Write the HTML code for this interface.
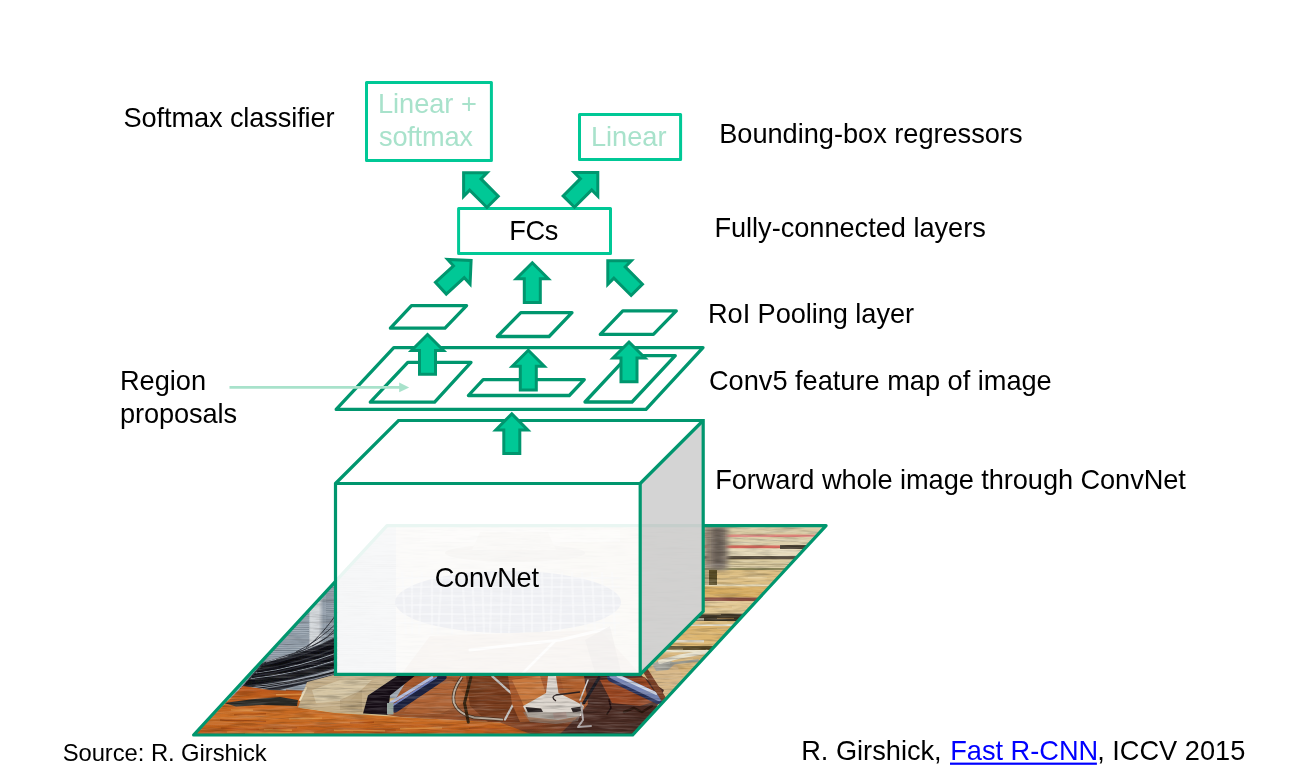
<!DOCTYPE html>
<html lang="en"><head><meta charset="utf-8"><title>Fast R-CNN</title>
<style>
html,body{margin:0;padding:0;background:#fff;}
body{width:1300px;height:769px;overflow:hidden;font-family:"Liberation Sans",Arial,sans-serif;}
svg{display:block;position:absolute;left:0;top:0;will-change:transform;}
svg text{font-family:"Liberation Sans",Arial,sans-serif;}
</style></head><body>
<svg width="1300" height="769" viewBox="0 0 1300 769">

<defs><clipPath id="imgclip"><polygon points="387.0,525.6 826.1,525.6 632.7,735.0 193.6,735.0"/></clipPath></defs>
<g clip-path="url(#imgclip)">
<defs>
<filter id="bl" x="-2%" y="-2%" width="104%" height="104%"><feGaussianBlur stdDeviation="0.55"/></filter>
<filter id="bl2" x="-20%" y="-20%" width="140%" height="140%"><feGaussianBlur stdDeviation="2.5"/></filter>
<linearGradient id="metal" x1="0" x2="1" y1="0" y2="0"><stop offset="0" stop-color="#98a3ad"/><stop offset="0.512" stop-color="#a4afba"/><stop offset="0.52" stop-color="#d6dadd"/><stop offset="0.555" stop-color="#d2d6da"/><stop offset="0.575" stop-color="#939eaa"/><stop offset="0.62" stop-color="#9aa5b0"/><stop offset="1" stop-color="#a9b3bd"/></linearGradient>
<linearGradient id="fur" x1="0" x2="0" y1="0" y2="1"><stop offset="0" stop-color="#b8551a"/><stop offset="0.55" stop-color="#cd7026"/><stop offset="1" stop-color="#b04e14"/></linearGradient>
<linearGradient id="neck" x1="0" x2="1" y1="0" y2="0.6"><stop offset="0" stop-color="#a85c2e"/><stop offset="0.5" stop-color="#96502a"/><stop offset="1" stop-color="#6e3620"/></linearGradient>
<filter id="grainD" x="0" y="0" width="100%" height="100%"><feTurbulence type="fractalNoise" baseFrequency="0.035 0.5" numOctaves="3" seed="3"/><feColorMatrix type="matrix" values="0 0 0 0 0  0 0 0 0 0  0 0 0 0 0  2.4 0 0 0 -1.05"/></filter>
<filter id="grainL" x="0" y="0" width="100%" height="100%"><feTurbulence type="fractalNoise" baseFrequency="0.03 0.45" numOctaves="3" seed="11"/><feColorMatrix type="matrix" values="0 0 0 0 1  0 0 0 0 1  0 0 0 0 1  0 2.4 0 0 -1.05"/></filter>
</defs>
<g filter="url(#bl)">
<rect x="180" y="515" width="660" height="230" fill="#d9c08c" />
<rect x="560" y="520" width="280" height="14.600000000000023" fill="#d9cba5" />
<rect x="560" y="534.6" width="280" height="2.6000000000000227" fill="#dc8078" />
<rect x="560" y="537.2" width="280" height="8.199999999999932" fill="#ddd0ac" />
<rect x="560" y="545.4" width="280" height="3.0" fill="#d86a5e" />
<rect x="560" y="548.4" width="280" height="7.600000000000023" fill="#e6daba" />
<rect x="560" y="556" width="280" height="3.5" fill="#5a5040" />
<rect x="560" y="559.5" width="280" height="4.5" fill="#d8c89c" />
<rect x="560" y="564" width="280" height="1" fill="#b8a880" />
<rect x="560" y="565" width="280" height="3" fill="#dccda4" />
<rect x="560" y="568" width="280" height="2" fill="#8a8458" />
<rect x="560" y="570" width="280" height="14.5" fill="#ddbf84" />
<rect x="560" y="584.5" width="280" height="2.0" fill="#eadcb8" />
<rect x="560" y="586.5" width="280" height="11.0" fill="#d8ae62" />
<rect x="560" y="597.5" width="280" height="3.5" fill="#8a5040" />
<rect x="560" y="601" width="280" height="12.700000000000045" fill="#e2c894" />
<rect x="560" y="613.7" width="280" height="7.2999999999999545" fill="#3a3020" />
<rect x="560" y="621" width="280" height="3" fill="#d8b878" />
<rect x="560" y="624" width="280" height="2" fill="#e8e0cc" />
<rect x="560" y="626" width="280" height="20" fill="#ddb670" />
<rect x="560" y="646" width="280" height="4" fill="#5a4a28" />
<rect x="560" y="650" width="280" height="2.5" fill="#ece4cc" />
<rect x="560" y="652.5" width="280" height="52.5" fill="#d8b67c" />
<rect x="780" y="545" width="50" height="4" fill="#4a4030" />
<line x1="661" y1="612.1" x2="699" y2="612.1" stroke="#c89c52" stroke-width="1" opacity="0.55"/>
<line x1="653" y1="676.8" x2="689" y2="676.8" stroke="#ecd8a8" stroke-width="1" opacity="0.55"/>
<line x1="701" y1="574.9" x2="718" y2="574.9" stroke="#c89c52" stroke-width="1" opacity="0.55"/>
<line x1="648" y1="641.6" x2="683" y2="641.6" stroke="#ecd8a8" stroke-width="1" opacity="0.55"/>
<line x1="722" y1="652.0" x2="739" y2="652.0" stroke="#e8cf9a" stroke-width="1" opacity="0.55"/>
<line x1="671" y1="576.4" x2="705" y2="576.4" stroke="#ecd8a8" stroke-width="1" opacity="0.55"/>
<line x1="660" y1="607.6" x2="679" y2="607.6" stroke="#b88a48" stroke-width="1" opacity="0.55"/>
<line x1="735" y1="642.8" x2="754" y2="642.8" stroke="#ecd8a8" stroke-width="1" opacity="0.55"/>
<line x1="717" y1="618.4" x2="734" y2="618.4" stroke="#c89c52" stroke-width="1" opacity="0.55"/>
<line x1="709" y1="650.5" x2="743" y2="650.5" stroke="#b88a48" stroke-width="1" opacity="0.55"/>
<line x1="769" y1="630.5" x2="797" y2="630.5" stroke="#ecd8a8" stroke-width="1" opacity="0.55"/>
<line x1="738" y1="673.3" x2="761" y2="673.3" stroke="#b88a48" stroke-width="1" opacity="0.55"/>
<line x1="763" y1="638.3" x2="803" y2="638.3" stroke="#b88a48" stroke-width="1" opacity="0.55"/>
<line x1="650" y1="649.2" x2="683" y2="649.2" stroke="#ecd8a8" stroke-width="1" opacity="0.55"/>
<line x1="661" y1="668.4" x2="693" y2="668.4" stroke="#c89c52" stroke-width="1" opacity="0.55"/>
<line x1="651" y1="695.1" x2="685" y2="695.1" stroke="#b88a48" stroke-width="1" opacity="0.55"/>
<line x1="689" y1="614.2" x2="721" y2="614.2" stroke="#e8cf9a" stroke-width="1" opacity="0.55"/>
<line x1="653" y1="578.9" x2="678" y2="578.9" stroke="#c89c52" stroke-width="1" opacity="0.55"/>
<line x1="738" y1="577.9" x2="776" y2="577.9" stroke="#e8cf9a" stroke-width="1" opacity="0.55"/>
<line x1="694" y1="607.0" x2="732" y2="607.0" stroke="#c89c52" stroke-width="1" opacity="0.55"/>
<line x1="690" y1="692.3" x2="726" y2="692.3" stroke="#e8cf9a" stroke-width="1" opacity="0.55"/>
<line x1="748" y1="577.7" x2="767" y2="577.7" stroke="#ecd8a8" stroke-width="1" opacity="0.55"/>
<line x1="768" y1="621.7" x2="801" y2="621.7" stroke="#ecd8a8" stroke-width="1" opacity="0.55"/>
<line x1="717" y1="628.4" x2="763" y2="628.4" stroke="#e8cf9a" stroke-width="1" opacity="0.55"/>
<line x1="679" y1="682.3" x2="709" y2="682.3" stroke="#b88a48" stroke-width="1" opacity="0.55"/>
<line x1="693" y1="658.8" x2="716" y2="658.8" stroke="#c89c52" stroke-width="1" opacity="0.55"/>
<line x1="672" y1="592.9" x2="696" y2="592.9" stroke="#e8cf9a" stroke-width="1" opacity="0.55"/>
<line x1="666" y1="678.0" x2="690" y2="678.0" stroke="#ecd8a8" stroke-width="1" opacity="0.55"/>
<line x1="692" y1="624.5" x2="727" y2="624.5" stroke="#ecd8a8" stroke-width="1" opacity="0.55"/>
<line x1="712" y1="659.8" x2="749" y2="659.8" stroke="#c89c52" stroke-width="1" opacity="0.55"/>
<line x1="762" y1="629.4" x2="810" y2="629.4" stroke="#e8cf9a" stroke-width="1" opacity="0.55"/>
<line x1="695" y1="621.7" x2="727" y2="621.7" stroke="#e8cf9a" stroke-width="1" opacity="0.55"/>
<line x1="649" y1="578.1" x2="672" y2="578.1" stroke="#ecd8a8" stroke-width="1" opacity="0.55"/>
<line x1="724" y1="584.3" x2="743" y2="584.3" stroke="#ecd8a8" stroke-width="1" opacity="0.55"/>
<line x1="773" y1="639.8" x2="809" y2="639.8" stroke="#c89c52" stroke-width="1" opacity="0.55"/>
<line x1="726" y1="683.7" x2="746" y2="683.7" stroke="#b88a48" stroke-width="1" opacity="0.55"/>
<line x1="724" y1="694.2" x2="756" y2="694.2" stroke="#c89c52" stroke-width="1" opacity="0.55"/>
<line x1="779" y1="680.4" x2="810" y2="680.4" stroke="#e8cf9a" stroke-width="1" opacity="0.55"/>
<line x1="660" y1="610.5" x2="701" y2="610.5" stroke="#b88a48" stroke-width="1" opacity="0.55"/>
<line x1="737" y1="632.2" x2="770" y2="632.2" stroke="#ecd8a8" stroke-width="1" opacity="0.55"/>
<polygon points="640,520 703.2,520 703.2,611.3 640,674.3" fill="#d4cab6" />
<rect x="640" y="548" width="64" height="2.5" fill="#c4b8a4" />
<rect x="640" y="571" width="64" height="2.5" fill="#e2d8c6" />
<rect x="640" y="597" width="64" height="2.5" fill="#c8bca8" />
<rect x="640" y="618" width="64" height="2.5" fill="#bfb4a2" />
<rect x="640" y="640" width="64" height="2.5" fill="#e0d6c2" />
<rect x="704" y="526" width="24" height="44" fill="#8c7f70" filter="url(#bl2)"/>
<rect x="713" y="528" width="10" height="40" fill="#6a6058" filter="url(#bl2)"/>
<rect x="708" y="570" width="9" height="15" fill="#5a4e28" />
<rect x="703" y="570" width="6" height="15" fill="#b8a47c" />
<polygon points="650,668 662,660 676,664 690,690 670,706 656,690" fill="#d8b888" />
<polygon points="652,664 664,659 676,663 668,670 656,671" fill="#a8a8a0" />
<polyline points="660,661.8 680,656.5 707,651.8" fill="none" stroke="#e8e2ce" stroke-width="4" stroke-linecap="round" stroke-linejoin="round" />
<polyline points="671,663.5 698,660.5" fill="none" stroke="#9a9a90" stroke-width="2.5" stroke-linecap="round" stroke-linejoin="round" />
<rect x="190" y="520" width="232" height="178" fill="url(#metal)" />
<line x1="240" y1="556.0" x2="309" y2="556.0" stroke="#76828e" stroke-width="0.9" opacity="0.8"/>
<line x1="326" y1="556.0" x2="396" y2="556.0" stroke="#76828e" stroke-width="0.9" opacity="0.8"/>
<line x1="240" y1="558.1" x2="309" y2="558.1" stroke="#76828e" stroke-width="0.9" opacity="0.8"/>
<line x1="326" y1="558.1" x2="396" y2="558.1" stroke="#76828e" stroke-width="0.9" opacity="0.8"/>
<line x1="240" y1="560.2" x2="309" y2="560.2" stroke="#76828e" stroke-width="0.9" opacity="0.8"/>
<line x1="326" y1="560.2" x2="396" y2="560.2" stroke="#76828e" stroke-width="0.9" opacity="0.8"/>
<line x1="240" y1="562.3" x2="309" y2="562.3" stroke="#76828e" stroke-width="0.9" opacity="0.8"/>
<line x1="326" y1="562.3" x2="396" y2="562.3" stroke="#76828e" stroke-width="0.9" opacity="0.8"/>
<line x1="240" y1="564.4" x2="309" y2="564.4" stroke="#76828e" stroke-width="0.9" opacity="0.8"/>
<line x1="326" y1="564.4" x2="396" y2="564.4" stroke="#76828e" stroke-width="0.9" opacity="0.8"/>
<line x1="240" y1="566.5" x2="309" y2="566.5" stroke="#76828e" stroke-width="0.9" opacity="0.8"/>
<line x1="326" y1="566.5" x2="396" y2="566.5" stroke="#76828e" stroke-width="0.9" opacity="0.8"/>
<line x1="240" y1="568.6" x2="309" y2="568.6" stroke="#76828e" stroke-width="0.9" opacity="0.8"/>
<line x1="326" y1="568.6" x2="396" y2="568.6" stroke="#76828e" stroke-width="0.9" opacity="0.8"/>
<line x1="240" y1="570.7" x2="309" y2="570.7" stroke="#76828e" stroke-width="0.9" opacity="0.8"/>
<line x1="326" y1="570.7" x2="396" y2="570.7" stroke="#76828e" stroke-width="0.9" opacity="0.8"/>
<line x1="240" y1="572.8" x2="309" y2="572.8" stroke="#76828e" stroke-width="0.9" opacity="0.8"/>
<line x1="326" y1="572.8" x2="396" y2="572.8" stroke="#76828e" stroke-width="0.9" opacity="0.8"/>
<line x1="240" y1="574.9" x2="309" y2="574.9" stroke="#76828e" stroke-width="0.9" opacity="0.8"/>
<line x1="326" y1="574.9" x2="396" y2="574.9" stroke="#76828e" stroke-width="0.9" opacity="0.8"/>
<line x1="240" y1="577.0" x2="309" y2="577.0" stroke="#76828e" stroke-width="0.9" opacity="0.8"/>
<line x1="326" y1="577.0" x2="396" y2="577.0" stroke="#76828e" stroke-width="0.9" opacity="0.8"/>
<line x1="240" y1="579.1" x2="309" y2="579.1" stroke="#76828e" stroke-width="0.9" opacity="0.8"/>
<line x1="326" y1="579.1" x2="396" y2="579.1" stroke="#76828e" stroke-width="0.9" opacity="0.8"/>
<line x1="240" y1="581.2" x2="309" y2="581.2" stroke="#76828e" stroke-width="0.9" opacity="0.8"/>
<line x1="326" y1="581.2" x2="396" y2="581.2" stroke="#76828e" stroke-width="0.9" opacity="0.8"/>
<line x1="240" y1="583.3" x2="309" y2="583.3" stroke="#76828e" stroke-width="0.9" opacity="0.8"/>
<line x1="326" y1="583.3" x2="396" y2="583.3" stroke="#76828e" stroke-width="0.9" opacity="0.8"/>
<line x1="240" y1="585.4" x2="309" y2="585.4" stroke="#76828e" stroke-width="0.9" opacity="0.8"/>
<line x1="326" y1="585.4" x2="396" y2="585.4" stroke="#76828e" stroke-width="0.9" opacity="0.8"/>
<line x1="240" y1="587.5" x2="309" y2="587.5" stroke="#76828e" stroke-width="0.9" opacity="0.8"/>
<line x1="326" y1="587.5" x2="396" y2="587.5" stroke="#76828e" stroke-width="0.9" opacity="0.8"/>
<line x1="240" y1="589.6" x2="309" y2="589.6" stroke="#76828e" stroke-width="0.9" opacity="0.8"/>
<line x1="326" y1="589.6" x2="396" y2="589.6" stroke="#76828e" stroke-width="0.9" opacity="0.8"/>
<line x1="240" y1="591.7" x2="309" y2="591.7" stroke="#76828e" stroke-width="0.9" opacity="0.8"/>
<line x1="326" y1="591.7" x2="396" y2="591.7" stroke="#76828e" stroke-width="0.9" opacity="0.8"/>
<line x1="240" y1="593.8" x2="309" y2="593.8" stroke="#76828e" stroke-width="0.9" opacity="0.8"/>
<line x1="326" y1="593.8" x2="396" y2="593.8" stroke="#76828e" stroke-width="0.9" opacity="0.8"/>
<line x1="240" y1="595.9" x2="309" y2="595.9" stroke="#76828e" stroke-width="0.9" opacity="0.8"/>
<line x1="326" y1="595.9" x2="396" y2="595.9" stroke="#76828e" stroke-width="0.9" opacity="0.8"/>
<line x1="240" y1="598.0" x2="309" y2="598.0" stroke="#76828e" stroke-width="0.9" opacity="0.8"/>
<line x1="326" y1="598.0" x2="396" y2="598.0" stroke="#76828e" stroke-width="0.9" opacity="0.8"/>
<line x1="240" y1="600.1" x2="309" y2="600.1" stroke="#76828e" stroke-width="0.9" opacity="0.8"/>
<line x1="326" y1="600.1" x2="396" y2="600.1" stroke="#76828e" stroke-width="0.9" opacity="0.8"/>
<line x1="240" y1="602.2" x2="309" y2="602.2" stroke="#76828e" stroke-width="0.9" opacity="0.8"/>
<line x1="326" y1="602.2" x2="396" y2="602.2" stroke="#76828e" stroke-width="0.9" opacity="0.8"/>
<line x1="240" y1="604.3" x2="309" y2="604.3" stroke="#76828e" stroke-width="0.9" opacity="0.8"/>
<line x1="326" y1="604.3" x2="396" y2="604.3" stroke="#76828e" stroke-width="0.9" opacity="0.8"/>
<line x1="240" y1="606.4" x2="309" y2="606.4" stroke="#76828e" stroke-width="0.9" opacity="0.8"/>
<line x1="326" y1="606.4" x2="396" y2="606.4" stroke="#76828e" stroke-width="0.9" opacity="0.8"/>
<line x1="240" y1="608.5" x2="309" y2="608.5" stroke="#76828e" stroke-width="0.9" opacity="0.8"/>
<line x1="326" y1="608.5" x2="396" y2="608.5" stroke="#76828e" stroke-width="0.9" opacity="0.8"/>
<line x1="240" y1="610.6" x2="309" y2="610.6" stroke="#76828e" stroke-width="0.9" opacity="0.8"/>
<line x1="326" y1="610.6" x2="396" y2="610.6" stroke="#76828e" stroke-width="0.9" opacity="0.8"/>
<line x1="240" y1="612.7" x2="309" y2="612.7" stroke="#76828e" stroke-width="0.9" opacity="0.8"/>
<line x1="326" y1="612.7" x2="396" y2="612.7" stroke="#76828e" stroke-width="0.9" opacity="0.8"/>
<line x1="240" y1="614.8" x2="309" y2="614.8" stroke="#76828e" stroke-width="0.9" opacity="0.8"/>
<line x1="326" y1="614.8" x2="396" y2="614.8" stroke="#76828e" stroke-width="0.9" opacity="0.8"/>
<line x1="240" y1="616.9" x2="309" y2="616.9" stroke="#76828e" stroke-width="0.9" opacity="0.8"/>
<line x1="326" y1="616.9" x2="396" y2="616.9" stroke="#76828e" stroke-width="0.9" opacity="0.8"/>
<line x1="240" y1="619.0" x2="309" y2="619.0" stroke="#76828e" stroke-width="0.9" opacity="0.8"/>
<line x1="326" y1="619.0" x2="396" y2="619.0" stroke="#76828e" stroke-width="0.9" opacity="0.8"/>
<line x1="240" y1="621.1" x2="309" y2="621.1" stroke="#76828e" stroke-width="0.9" opacity="0.8"/>
<line x1="326" y1="621.1" x2="396" y2="621.1" stroke="#76828e" stroke-width="0.9" opacity="0.8"/>
<line x1="240" y1="623.2" x2="309" y2="623.2" stroke="#76828e" stroke-width="0.9" opacity="0.8"/>
<line x1="326" y1="623.2" x2="396" y2="623.2" stroke="#76828e" stroke-width="0.9" opacity="0.8"/>
<line x1="240" y1="625.3" x2="309" y2="625.3" stroke="#76828e" stroke-width="0.9" opacity="0.8"/>
<line x1="326" y1="625.3" x2="396" y2="625.3" stroke="#76828e" stroke-width="0.9" opacity="0.8"/>
<line x1="240" y1="627.4" x2="309" y2="627.4" stroke="#76828e" stroke-width="0.9" opacity="0.8"/>
<line x1="326" y1="627.4" x2="396" y2="627.4" stroke="#76828e" stroke-width="0.9" opacity="0.8"/>
<line x1="240" y1="629.5" x2="309" y2="629.5" stroke="#76828e" stroke-width="0.9" opacity="0.8"/>
<line x1="326" y1="629.5" x2="396" y2="629.5" stroke="#76828e" stroke-width="0.9" opacity="0.8"/>
<line x1="240" y1="631.6" x2="309" y2="631.6" stroke="#76828e" stroke-width="0.9" opacity="0.8"/>
<line x1="326" y1="631.6" x2="396" y2="631.6" stroke="#76828e" stroke-width="0.9" opacity="0.8"/>
<line x1="240" y1="633.7" x2="309" y2="633.7" stroke="#76828e" stroke-width="0.9" opacity="0.8"/>
<line x1="326" y1="633.7" x2="396" y2="633.7" stroke="#76828e" stroke-width="0.9" opacity="0.8"/>
<line x1="240" y1="635.8" x2="309" y2="635.8" stroke="#76828e" stroke-width="0.9" opacity="0.8"/>
<line x1="326" y1="635.8" x2="396" y2="635.8" stroke="#76828e" stroke-width="0.9" opacity="0.8"/>
<line x1="240" y1="637.9" x2="309" y2="637.9" stroke="#76828e" stroke-width="0.9" opacity="0.8"/>
<line x1="326" y1="637.9" x2="396" y2="637.9" stroke="#76828e" stroke-width="0.9" opacity="0.8"/>
<line x1="240" y1="640.0" x2="309" y2="640.0" stroke="#76828e" stroke-width="0.9" opacity="0.8"/>
<line x1="326" y1="640.0" x2="396" y2="640.0" stroke="#76828e" stroke-width="0.9" opacity="0.8"/>
<line x1="240" y1="642.1" x2="309" y2="642.1" stroke="#76828e" stroke-width="0.9" opacity="0.8"/>
<line x1="326" y1="642.1" x2="396" y2="642.1" stroke="#76828e" stroke-width="0.9" opacity="0.8"/>
<line x1="240" y1="644.2" x2="309" y2="644.2" stroke="#76828e" stroke-width="0.9" opacity="0.8"/>
<line x1="326" y1="644.2" x2="396" y2="644.2" stroke="#76828e" stroke-width="0.9" opacity="0.8"/>
<line x1="240" y1="646.3" x2="309" y2="646.3" stroke="#76828e" stroke-width="0.9" opacity="0.8"/>
<line x1="326" y1="646.3" x2="396" y2="646.3" stroke="#76828e" stroke-width="0.9" opacity="0.8"/>
<line x1="240" y1="648.4" x2="309" y2="648.4" stroke="#76828e" stroke-width="0.9" opacity="0.8"/>
<line x1="326" y1="648.4" x2="396" y2="648.4" stroke="#76828e" stroke-width="0.9" opacity="0.8"/>
<line x1="240" y1="650.5" x2="309" y2="650.5" stroke="#76828e" stroke-width="0.9" opacity="0.8"/>
<line x1="326" y1="650.5" x2="396" y2="650.5" stroke="#76828e" stroke-width="0.9" opacity="0.8"/>
<line x1="240" y1="652.6" x2="309" y2="652.6" stroke="#76828e" stroke-width="0.9" opacity="0.8"/>
<line x1="326" y1="652.6" x2="396" y2="652.6" stroke="#76828e" stroke-width="0.9" opacity="0.8"/>
<line x1="240" y1="654.7" x2="309" y2="654.7" stroke="#76828e" stroke-width="0.9" opacity="0.8"/>
<line x1="326" y1="654.7" x2="396" y2="654.7" stroke="#76828e" stroke-width="0.9" opacity="0.8"/>
<line x1="240" y1="656.8" x2="309" y2="656.8" stroke="#76828e" stroke-width="0.9" opacity="0.8"/>
<line x1="326" y1="656.8" x2="396" y2="656.8" stroke="#76828e" stroke-width="0.9" opacity="0.8"/>
<line x1="240" y1="658.9" x2="309" y2="658.9" stroke="#76828e" stroke-width="0.9" opacity="0.8"/>
<line x1="326" y1="658.9" x2="396" y2="658.9" stroke="#76828e" stroke-width="0.9" opacity="0.8"/>
<line x1="240" y1="661.0" x2="309" y2="661.0" stroke="#76828e" stroke-width="0.9" opacity="0.8"/>
<line x1="326" y1="661.0" x2="396" y2="661.0" stroke="#76828e" stroke-width="0.9" opacity="0.8"/>
<line x1="240" y1="663.1" x2="309" y2="663.1" stroke="#76828e" stroke-width="0.9" opacity="0.8"/>
<line x1="326" y1="663.1" x2="396" y2="663.1" stroke="#76828e" stroke-width="0.9" opacity="0.8"/>
<line x1="240" y1="665.2" x2="309" y2="665.2" stroke="#76828e" stroke-width="0.9" opacity="0.8"/>
<line x1="326" y1="665.2" x2="396" y2="665.2" stroke="#76828e" stroke-width="0.9" opacity="0.8"/>
<line x1="240" y1="667.3" x2="309" y2="667.3" stroke="#76828e" stroke-width="0.9" opacity="0.8"/>
<line x1="326" y1="667.3" x2="396" y2="667.3" stroke="#76828e" stroke-width="0.9" opacity="0.8"/>
<line x1="240" y1="669.4" x2="309" y2="669.4" stroke="#76828e" stroke-width="0.9" opacity="0.8"/>
<line x1="326" y1="669.4" x2="396" y2="669.4" stroke="#76828e" stroke-width="0.9" opacity="0.8"/>
<line x1="240" y1="671.5" x2="309" y2="671.5" stroke="#76828e" stroke-width="0.9" opacity="0.8"/>
<line x1="326" y1="671.5" x2="396" y2="671.5" stroke="#76828e" stroke-width="0.9" opacity="0.8"/>
<line x1="240" y1="673.6" x2="309" y2="673.6" stroke="#76828e" stroke-width="0.9" opacity="0.8"/>
<line x1="326" y1="673.6" x2="396" y2="673.6" stroke="#76828e" stroke-width="0.9" opacity="0.8"/>
<line x1="240" y1="675.7" x2="309" y2="675.7" stroke="#76828e" stroke-width="0.9" opacity="0.8"/>
<line x1="326" y1="675.7" x2="396" y2="675.7" stroke="#76828e" stroke-width="0.9" opacity="0.8"/>
<line x1="240" y1="677.8" x2="309" y2="677.8" stroke="#76828e" stroke-width="0.9" opacity="0.8"/>
<line x1="326" y1="677.8" x2="396" y2="677.8" stroke="#76828e" stroke-width="0.9" opacity="0.8"/>
<line x1="240" y1="679.9" x2="309" y2="679.9" stroke="#76828e" stroke-width="0.9" opacity="0.8"/>
<line x1="326" y1="679.9" x2="396" y2="679.9" stroke="#76828e" stroke-width="0.9" opacity="0.8"/>
<line x1="240" y1="682.0" x2="309" y2="682.0" stroke="#76828e" stroke-width="0.9" opacity="0.8"/>
<line x1="326" y1="682.0" x2="396" y2="682.0" stroke="#76828e" stroke-width="0.9" opacity="0.8"/>
<line x1="240" y1="684.1" x2="309" y2="684.1" stroke="#76828e" stroke-width="0.9" opacity="0.8"/>
<line x1="326" y1="684.1" x2="396" y2="684.1" stroke="#76828e" stroke-width="0.9" opacity="0.8"/>
<line x1="240" y1="686.2" x2="309" y2="686.2" stroke="#76828e" stroke-width="0.9" opacity="0.8"/>
<line x1="326" y1="686.2" x2="396" y2="686.2" stroke="#76828e" stroke-width="0.9" opacity="0.8"/>
<line x1="240" y1="688.3" x2="309" y2="688.3" stroke="#76828e" stroke-width="0.9" opacity="0.8"/>
<line x1="326" y1="688.3" x2="396" y2="688.3" stroke="#76828e" stroke-width="0.9" opacity="0.8"/>
<rect x="396" y="520" width="246" height="156" fill="#d6ccba" />
<rect x="560" y="520" width="82" height="156" fill="#d2c2a2" />
<rect x="420" y="530" width="200" height="12" fill="#e6dece" />
<ellipse cx="515" cy="553" rx="70" ry="9" fill="#a89a84"/>
<polygon points="480,532 548,532 556,550 472,550" fill="#c8bca4" />
<ellipse cx="508" cy="602" rx="113" ry="31" fill="#4a5680"/>
<line x1="402" y1="572" x2="406" y2="634" stroke="#c4cce0" stroke-width="2.2" opacity="0.55"/>
<line x1="412" y1="572" x2="412" y2="634" stroke="#c4cce0" stroke-width="2.2" opacity="0.55"/>
<line x1="422" y1="572" x2="419" y2="634" stroke="#c4cce0" stroke-width="2.2" opacity="0.55"/>
<line x1="432" y1="572" x2="432" y2="634" stroke="#c4cce0" stroke-width="2.2" opacity="0.55"/>
<line x1="442" y1="572" x2="438" y2="634" stroke="#c4cce0" stroke-width="2.2" opacity="0.55"/>
<line x1="452" y1="572" x2="452" y2="634" stroke="#c4cce0" stroke-width="2.2" opacity="0.55"/>
<line x1="462" y1="572" x2="466" y2="634" stroke="#c4cce0" stroke-width="2.2" opacity="0.55"/>
<line x1="472" y1="572" x2="475" y2="634" stroke="#c4cce0" stroke-width="2.2" opacity="0.55"/>
<line x1="482" y1="572" x2="484" y2="634" stroke="#c4cce0" stroke-width="2.2" opacity="0.55"/>
<line x1="492" y1="572" x2="490" y2="634" stroke="#c4cce0" stroke-width="2.2" opacity="0.55"/>
<line x1="502" y1="572" x2="501" y2="634" stroke="#c4cce0" stroke-width="2.2" opacity="0.55"/>
<line x1="512" y1="572" x2="509" y2="634" stroke="#c4cce0" stroke-width="2.2" opacity="0.55"/>
<line x1="522" y1="572" x2="524" y2="634" stroke="#c4cce0" stroke-width="2.2" opacity="0.55"/>
<line x1="532" y1="572" x2="532" y2="634" stroke="#c4cce0" stroke-width="2.2" opacity="0.55"/>
<line x1="542" y1="572" x2="544" y2="634" stroke="#c4cce0" stroke-width="2.2" opacity="0.55"/>
<line x1="552" y1="572" x2="551" y2="634" stroke="#c4cce0" stroke-width="2.2" opacity="0.55"/>
<line x1="562" y1="572" x2="560" y2="634" stroke="#c4cce0" stroke-width="2.2" opacity="0.55"/>
<line x1="572" y1="572" x2="574" y2="634" stroke="#c4cce0" stroke-width="2.2" opacity="0.55"/>
<line x1="582" y1="572" x2="586" y2="634" stroke="#c4cce0" stroke-width="2.2" opacity="0.55"/>
<line x1="592" y1="572" x2="595" y2="634" stroke="#c4cce0" stroke-width="2.2" opacity="0.55"/>
<line x1="602" y1="572" x2="604" y2="634" stroke="#c4cce0" stroke-width="2.2" opacity="0.55"/>
<line x1="612" y1="572" x2="615" y2="634" stroke="#c4cce0" stroke-width="2.2" opacity="0.55"/>
<line x1="396" y1="578" x2="620" y2="578" stroke="#c4cce0" stroke-width="1.8" opacity="0.5"/>
<line x1="396" y1="587" x2="620" y2="587" stroke="#c4cce0" stroke-width="1.8" opacity="0.5"/>
<line x1="396" y1="596" x2="620" y2="596" stroke="#c4cce0" stroke-width="1.8" opacity="0.5"/>
<line x1="396" y1="605" x2="620" y2="605" stroke="#c4cce0" stroke-width="1.8" opacity="0.5"/>
<line x1="396" y1="614" x2="620" y2="614" stroke="#c4cce0" stroke-width="1.8" opacity="0.5"/>
<line x1="396" y1="623" x2="620" y2="623" stroke="#c4cce0" stroke-width="1.8" opacity="0.5"/>
<polygon points="430,636 600,630 642,676 400,676" fill="#b89478" />
<polyline points="470,650 560,640 610,628" fill="none" stroke="#f4f0ea" stroke-width="3" stroke-linecap="round" stroke-linejoin="round" />
<polyline points="520,676 556,640" fill="none" stroke="#f4f0ea" stroke-width="2.5" stroke-linecap="round" stroke-linejoin="round" />
<polygon points="585,640 610,626 622,676 596,676" fill="#6a5040" opacity='0.7'/>
<polygon points="236,694 262,663 290,654 336,640 336,674 308,683 280,690" fill="#2e3038" />
<path d="M238.0,692.0 Q288.0,688.7 338.0,675.4" stroke="#1d1f26" stroke-width="1.1" fill="none"/>
<path d="M238.8,691.1 Q288.4,686.9 338.0,672.8" stroke="#9aa2ac" stroke-width="0.8" fill="none"/>
<path d="M239.7,690.2 Q288.8,684.5 338.0,668.9" stroke="#0e0e12" stroke-width="1.6" fill="none"/>
<path d="M240.5,689.3 Q289.3,684.0 338.0,668.7" stroke="#2a2c34" stroke-width="2.3" fill="none"/>
<path d="M241.4,688.4 Q289.7,683.7 338.0,669.1" stroke="#9aa2ac" stroke-width="2.4" fill="none"/>
<path d="M242.2,687.5 Q290.1,684.2 338.0,671.0" stroke="#0e0e12" stroke-width="0.9" fill="none"/>
<path d="M243.1,686.5 Q290.5,680.6 338.0,664.7" stroke="#15161c" stroke-width="1.1" fill="none"/>
<path d="M243.9,685.6 Q291.0,679.9 338.0,664.2" stroke="#2a2c34" stroke-width="2.4" fill="none"/>
<path d="M244.8,684.7 Q291.4,680.1 338.0,665.4" stroke="#15161c" stroke-width="1.6" fill="none"/>
<path d="M245.6,683.8 Q291.8,679.2 338.0,664.6" stroke="#0e0e12" stroke-width="1.8" fill="none"/>
<path d="M246.5,682.9 Q292.2,678.7 338.0,664.5" stroke="#15161c" stroke-width="2.3" fill="none"/>
<path d="M247.3,682.0 Q292.7,677.5 338.0,663.0" stroke="#0e0e12" stroke-width="1.1" fill="none"/>
<path d="M248.2,681.1 Q293.1,676.8 338.0,662.5" stroke="#15161c" stroke-width="2.1" fill="none"/>
<path d="M249.0,680.2 Q293.5,674.1 338.0,658.0" stroke="#0e0e12" stroke-width="2.3" fill="none"/>
<path d="M249.9,679.3 Q293.9,674.2 338.0,659.2" stroke="#15161c" stroke-width="1.4" fill="none"/>
<path d="M250.7,678.4 Q294.4,673.9 338.0,659.4" stroke="#9aa2ac" stroke-width="1.1" fill="none"/>
<path d="M251.6,677.5 Q294.8,673.0 338.0,658.5" stroke="#15161c" stroke-width="1.0" fill="none"/>
<path d="M252.4,676.5 Q295.2,671.7 338.0,656.9" stroke="#0e0e12" stroke-width="1.8" fill="none"/>
<path d="M253.3,675.6 Q295.6,669.8 338.0,653.9" stroke="#2a2c34" stroke-width="2.4" fill="none"/>
<path d="M254.1,674.7 Q296.1,668.9 338.0,653.1" stroke="#0e0e12" stroke-width="1.0" fill="none"/>
<path d="M255.0,673.8 Q296.5,667.5 338.0,651.3" stroke="#15161c" stroke-width="0.8" fill="none"/>
<path d="M255.8,672.9 Q296.9,667.8 338.0,652.6" stroke="#9aa2ac" stroke-width="1.0" fill="none"/>
<path d="M256.7,672.0 Q297.3,666.1 338.0,650.2" stroke="#1d1f26" stroke-width="1.5" fill="none"/>
<path d="M257.5,671.1 Q297.8,665.4 338.0,649.7" stroke="#0e0e12" stroke-width="2.2" fill="none"/>
<path d="M258.4,670.2 Q298.2,661.9 338.0,643.5" stroke="#1d1f26" stroke-width="1.3" fill="none"/>
<path d="M259.2,669.3 Q298.6,661.5 338.0,643.7" stroke="#2a2c34" stroke-width="1.3" fill="none"/>
<path d="M260.1,668.4 Q299.0,661.3 338.0,644.3" stroke="#0e0e12" stroke-width="1.0" fill="none"/>
<path d="M260.9,667.5 Q299.5,661.4 338.0,645.4" stroke="#0e0e12" stroke-width="2.2" fill="none"/>
<path d="M261.8,666.5 Q299.9,659.6 338.0,642.7" stroke="#0e0e12" stroke-width="2.2" fill="none"/>
<path d="M262.6,665.6 Q300.3,657.9 338.0,640.1" stroke="#2a2c34" stroke-width="1.0" fill="none"/>
<path d="M263.5,664.7 Q300.7,656.0 338.0,637.4" stroke="#2a2c34" stroke-width="0.8" fill="none"/>
<path d="M264.3,663.8 Q301.2,655.9 338.0,637.9" stroke="#1d1f26" stroke-width="1.8" fill="none"/>
<path d="M265.2,662.9 Q301.6,655.9 338.0,638.8" stroke="#1d1f26" stroke-width="1.1" fill="none"/>
<path d="M266.0,662.0 Q302.0,653.9 338.0,635.8" stroke="#9aa2ac" stroke-width="1.0" fill="none"/>
<path d="M296,652 Q317.0,642.0 338,622" stroke="#2a2c34" stroke-width="0.9" fill="none"/>
<path d="M288,656 Q313.0,648.0 338,630" stroke="#2a2c34" stroke-width="0.9" fill="none"/>
<path d="M306,648 Q322.0,635.0 338,612" stroke="#2a2c34" stroke-width="0.9" fill="none"/>
<path d="M276,660 Q307.0,653.0 338,636" stroke="#2a2c34" stroke-width="0.9" fill="none"/>
<path d="M312,646 Q325.0,641.0 338,626" stroke="#2a2c34" stroke-width="0.9" fill="none"/>
<polygon points="186,742 243,686 270,690 302,691 300,708 335,713 400,717 500,722.5 530,728 556,742" fill="url(#fur)" />
<polygon points="224,703 250,699.5 280,697 298,700 297,706 262,705 236,706.5" fill="#2c2a26" />
<line x1="220" y1="720.0" x2="266" y2="721.4" stroke="#9c420e" stroke-width="1.4" opacity="0.7"/>
<line x1="234" y1="714.7" x2="266" y2="713.8" stroke="#a84a12" stroke-width="1.4" opacity="0.7"/>
<line x1="231" y1="709.9" x2="253" y2="710.2" stroke="#e09a4a" stroke-width="1.4" opacity="0.7"/>
<line x1="353" y1="731.4" x2="408" y2="733.2" stroke="#a84a12" stroke-width="1.4" opacity="0.7"/>
<line x1="297" y1="695.4" x2="356" y2="696.3" stroke="#c4621c" stroke-width="1.4" opacity="0.7"/>
<line x1="350" y1="722.9" x2="374" y2="722.3" stroke="#9c420e" stroke-width="1.4" opacity="0.7"/>
<line x1="273" y1="728.6" x2="297" y2="727.7" stroke="#a84a12" stroke-width="1.4" opacity="0.7"/>
<line x1="335" y1="730.1" x2="396" y2="730.3" stroke="#a84a12" stroke-width="1.4" opacity="0.7"/>
<line x1="259" y1="729.4" x2="292" y2="730.3" stroke="#e09a4a" stroke-width="1.4" opacity="0.7"/>
<line x1="221" y1="728.0" x2="264" y2="729.9" stroke="#a84a12" stroke-width="1.4" opacity="0.7"/>
<line x1="334" y1="730.3" x2="385" y2="730.9" stroke="#e09a4a" stroke-width="1.4" opacity="0.7"/>
<line x1="276" y1="694.8" x2="304" y2="694.4" stroke="#e09a4a" stroke-width="1.4" opacity="0.7"/>
<line x1="498" y1="717.7" x2="545" y2="717.5" stroke="#d98a3c" stroke-width="1.4" opacity="0.7"/>
<line x1="206" y1="701.0" x2="227" y2="701.5" stroke="#c4621c" stroke-width="1.4" opacity="0.7"/>
<line x1="343" y1="719.0" x2="396" y2="719.5" stroke="#c4621c" stroke-width="1.4" opacity="0.7"/>
<line x1="420" y1="733.2" x2="457" y2="734.4" stroke="#c4621c" stroke-width="1.4" opacity="0.7"/>
<line x1="245" y1="733.5" x2="314" y2="732.6" stroke="#d98a3c" stroke-width="1.4" opacity="0.7"/>
<line x1="400" y1="728.7" x2="442" y2="728.0" stroke="#e09a4a" stroke-width="1.4" opacity="0.7"/>
<line x1="469" y1="728.3" x2="523" y2="729.1" stroke="#a84a12" stroke-width="1.4" opacity="0.7"/>
<line x1="286" y1="690.2" x2="324" y2="692.1" stroke="#a84a12" stroke-width="1.4" opacity="0.7"/>
<line x1="299" y1="705.7" x2="319" y2="704.9" stroke="#9c420e" stroke-width="1.4" opacity="0.7"/>
<line x1="289" y1="718.9" x2="322" y2="718.1" stroke="#e09a4a" stroke-width="1.4" opacity="0.7"/>
<line x1="227" y1="732.1" x2="290" y2="733.1" stroke="#d98a3c" stroke-width="1.4" opacity="0.7"/>
<polygon points="307,682 336,674.5 400,674.5 368,695.5 363,714.5 335,712.5 298,707.5 301,699" fill="#c4ae88" />
<polygon points="312,690 340,680 372,680 350,700 316,703" fill="#d6c6a4" />
<polygon points="340,700 362,690 362,712 340,710" fill="#b49c78" opacity='0.7'/>
<polyline points="300,700 306,688" fill="none" stroke="#ecdcb8" stroke-width="2" stroke-linecap="round" stroke-linejoin="round" />
<polygon points="410,675 642,675 642,742 552,742 500,722.5 400,717 386,715" fill="url(#neck)" />
<polygon points="420,690 452,680 470,700 440,714 404,712" fill="#b46a38" opacity='0.75'/>
<polygon points="466,676 512,676 524,722 488,722 470,706" fill="#6e3418" opacity='0.75'/>
<polygon points="398.5,675 416,675 390,695.5 388,715 363,713.5 368,695.5" fill="#171014" />
<polyline points="395,709 443,677" fill="none" stroke="#1a2040" stroke-width="7" stroke-linecap="round" stroke-linejoin="round" />
<polyline points="390.5,703 432,677.5" fill="none" stroke="#b4bfe0" stroke-width="2.8" stroke-linecap="round" stroke-linejoin="round" />
<polyline points="392.5,705.5 436,677.5" fill="none" stroke="#6f80c0" stroke-width="2" stroke-linecap="round" stroke-linejoin="round" />
<rect x="387" y="703" width="6.5" height="11.5" fill="#93a29c" />
<path d="M462,677 Q451,692 454,703 Q458,714 474,717.5 L503,719.6" stroke="#4a3020" stroke-width="3.4" fill="none"/>
<path d="M462,677 Q451,692 454,703 Q458,714 474,717.5 L503,719.6" stroke="#bcae9e" stroke-width="1.8" fill="none"/>
<polyline points="471,677 464.5,703 468.3,722" fill="none" stroke="#34200f" stroke-width="3" stroke-linecap="round" stroke-linejoin="round" />
<polyline points="492.4,676.4 516.5,698 505,719.6" fill="none" stroke="#c2c0be" stroke-width="2.2" stroke-linecap="round" stroke-linejoin="round" />
<polyline points="512,692 518,700 514,706" fill="none" stroke="#e8e8e8" stroke-width="2.5" stroke-linecap="round" stroke-linejoin="round" />
<polygon points="584,676 642,676 664,690 642,742 552,742 572,722 584,702" fill="#4a2a22" />
<polygon points="600,680 644,677 660,700 640,706 612,703" fill="#9a4624" />
<polyline points="612,677 658,699" fill="none" stroke="#2a3460" stroke-width="10" stroke-linecap="round" stroke-linejoin="round" />
<polyline points="613,675.5 659,697.5" fill="none" stroke="#7484b4" stroke-width="7" stroke-linecap="round" stroke-linejoin="round" />
<polyline points="618,676 656,693.5" fill="none" stroke="#cfd6e8" stroke-width="3" stroke-linecap="round" stroke-linejoin="round" />
<polyline points="645,670 668,706" fill="none" stroke="#7a4028" stroke-width="5.5" stroke-linecap="round" stroke-linejoin="round" />
<polyline points="609,700 611,708 607,714" fill="none" stroke="#20100c" stroke-width="1.5" stroke-linecap="round" stroke-linejoin="round" />
<polyline points="624,712 634,708 642,712 652,706" fill="none" stroke="#2a120c" stroke-width="2.5" stroke-linecap="round" stroke-linejoin="round" />
<polygon points="508,676 584,676 588,704 575,720 520,722 512,704" fill="#a8582a" />
<polygon points="512,680 540,676 548,700 524,706" fill="#c8783e" />
<polygon points="560,676 584,676 586,700 566,700" fill="#b0602e" />
<polygon points="548,676 556,676 558.5,693 574,700.5 584,706 581,716 558,720 528,717 523,706 533,700.5 546,693" fill="#ddd6ce" />
<polygon points="525.5,707 541,708.5 543,712 528,712.5" fill="#2a2220" />
<polygon points="571,708 582,706.5 583,711 573,712.5" fill="#2a2220" />
<polygon points="553,713 566,712 567,718 554,718.5" fill="#e2b8b0" />
<polygon points="523,712 581,712 578,721 556,724 530,722" fill="#8a8078" opacity='0.6'/>
<path d="M556,701 Q550,697 556,695 L580,692" stroke="#2a2020" stroke-width="1.3" fill="none"/>
<polyline points="599,677.7 583.8,703" fill="none" stroke="#1e1a22" stroke-width="3" stroke-linecap="round" stroke-linejoin="round" />
<polyline points="581,703 583,720 578,727 591,726" fill="none" stroke="#b0a8a8" stroke-width="2" stroke-linecap="round" stroke-linejoin="round" />
<polyline points="588,680 580,700" fill="none" stroke="#d0d0d0" stroke-width="1.5" stroke-linecap="round" stroke-linejoin="round" />
</g>
<rect x="180" y="515" width="660" height="230" filter="url(#grainD)" opacity="0.22"/>
<rect x="180" y="515" width="660" height="230" filter="url(#grainL)" opacity="0.18"/>
</g>
<polygon points="387.0,525.6 826.1,525.6 632.7,735.0 193.6,735.0" fill="none" stroke="#00966E" stroke-width="3.2" stroke-linejoin="round"/>
<polygon points="640.2,483.5 703.2,420.5 703.2,611.3 640.2,674.3" fill="#d1d1d1" fill-opacity="0.94"/>
<polygon points="335.5,483.5 640.2,483.5 640.2,674.3 335.5,674.3" fill="#ffffff" fill-opacity="0.915"/>
<polygon points="335.5,483.5 398.5,420.5 703.2,420.5 640.2,483.5" fill="#fff"/>
<polygon points="335.5,483.5 398.5,420.5 703.2,420.5 703.2,611.3 640.2,674.3 335.5,674.3" fill="none" stroke="#00966E" stroke-width="3.2" stroke-linejoin="miter"/>
<polyline points="335.5,483.5 640.2,483.5 640.2,674.3" fill="none" stroke="#00966E" stroke-width="3.2" stroke-linejoin="miter"/>
<line x1="640.2" y1="483.5" x2="703.2" y2="420.5" stroke="#00966E" stroke-width="3.2"/>
<polygon points="393.8,347.6 703.0,347.6 646.0,409.4 336.2,409.4" fill="none" stroke="#00966E" stroke-width="3.3" stroke-linejoin="round"/>
<polygon points="407.8,362.3 471.0,362.3 434.6,402.2 370.3,402.2" fill="none" stroke="#00966E" stroke-width="3.3" stroke-linejoin="round"/>
<polygon points="483.2,379.6 584.3,379.6 569.3,395.5 468.4,395.5" fill="none" stroke="#00966E" stroke-width="3.3" stroke-linejoin="round"/>
<polygon points="628.3,355.7 675.3,355.7 632.0,402.0 585.0,402.0" fill="none" stroke="#00966E" stroke-width="3.3" stroke-linejoin="round"/>
<polygon points="411.5,305.6 466.6,305.6 445.0,328.2 390.4,328.2" fill="none" stroke="#00966E" stroke-width="3.3" stroke-linejoin="round"/>
<polygon points="520.8,312.7 572.0,312.7 549.1,336.5 497.3,336.5" fill="none" stroke="#00966E" stroke-width="3.3" stroke-linejoin="round"/>
<polygon points="622.8,310.9 676.3,310.9 653.4,334.4 600.3,334.4" fill="none" stroke="#00966E" stroke-width="3.3" stroke-linejoin="round"/>
<line x1="229.5" y1="387.4" x2="400" y2="387.4" stroke="#A8E2CB" stroke-width="2.6"/>
<polygon points="399.2,382.6 409.2,387.4 399.2,392.2" fill="#A8E2CB"/>
<rect x="366.5" y="82.5" width="124.9" height="78.0" fill="#fff" stroke="#00C896" stroke-width="3" stroke-linejoin="round"/>
<rect x="579.5" y="114.5" width="101.1" height="45.0" fill="#fff" stroke="#00C896" stroke-width="3" stroke-linejoin="round"/>
<rect x="458.6" y="208.6" width="151.9" height="44.8" fill="#fff" stroke="#00C896" stroke-width="3" stroke-linejoin="round"/>
<polygon transform="translate(511.8 413.9) rotate(0)" points="0.0,0.0 16.0,16.0 8.0,16.0 8.0,39.7 -8.0,39.7 -8.0,16.0 -16.0,16.0" fill="#00C896" stroke="#00966E" stroke-width="3" stroke-linejoin="miter"/>
<polygon transform="translate(427.5 334.5) rotate(0)" points="0.0,0.0 16.0,16.0 8.0,16.0 8.0,39.7 -8.0,39.7 -8.0,16.0 -16.0,16.0" fill="#00C896" stroke="#00966E" stroke-width="3" stroke-linejoin="miter"/>
<polygon transform="translate(528.3 350.3) rotate(0)" points="0.0,0.0 16.0,16.0 8.0,16.0 8.0,39.7 -8.0,39.7 -8.0,16.0 -16.0,16.0" fill="#00C896" stroke="#00966E" stroke-width="3" stroke-linejoin="miter"/>
<polygon transform="translate(629.0 342.0) rotate(0)" points="0.0,0.0 16.0,16.0 8.0,16.0 8.0,39.7 -8.0,39.7 -8.0,16.0 -16.0,16.0" fill="#00C896" stroke="#00966E" stroke-width="3" stroke-linejoin="miter"/>
<polygon transform="translate(532.3 262.8) rotate(0)" points="0.0,0.0 16.0,16.0 8.0,16.0 8.0,39.7 -8.0,39.7 -8.0,16.0 -16.0,16.0" fill="#00C896" stroke="#00966E" stroke-width="3" stroke-linejoin="miter"/>
<polygon transform="translate(471.1 260.5) rotate(47.5)" points="0.0,0.0 16.6,16.6 8.0,16.6 8.0,41.0 -8.0,41.0 -8.0,16.6 -16.6,16.6" fill="#00C896" stroke="#00966E" stroke-width="3" stroke-linejoin="miter"/>
<polygon transform="translate(607.8 260.8) rotate(-45)" points="0.0,0.0 16.6,16.6 8.0,16.6 8.0,41.0 -8.0,41.0 -8.0,16.6 -16.6,16.6" fill="#00C896" stroke="#00966E" stroke-width="3" stroke-linejoin="miter"/>
<polygon transform="translate(463.6 172.8) rotate(-45)" points="0.0,0.0 16.6,16.6 8.0,16.6 8.0,41.0 -8.0,41.0 -8.0,16.6 -16.6,16.6" fill="#00C896" stroke="#00966E" stroke-width="3" stroke-linejoin="miter"/>
<polygon transform="translate(597.8 172.6) rotate(45)" points="0.0,0.0 16.6,16.6 8.0,16.6 8.0,41.0 -8.0,41.0 -8.0,16.6 -16.6,16.6" fill="#00C896" stroke="#00966E" stroke-width="3" stroke-linejoin="miter"/>
<text x="123.6" y="126.8" font-size="27.2" letter-spacing="-0.122" fill="#000">Softmax classifier</text>
<text x="719.2" y="142.9" font-size="27.2" letter-spacing="-0.021" fill="#000">Bounding-box regressors</text>
<text x="714.4" y="236.8" font-size="27.2" letter-spacing="-0.029" fill="#000">Fully-connected layers</text>
<text x="708.0" y="323.2" font-size="27.2" letter-spacing="-0.062" fill="#000">RoI Pooling layer</text>
<text x="709.0" y="389.8" font-size="27.2" letter-spacing="-0.013" fill="#000">Conv5 feature map of image</text>
<text x="715.2" y="488.7" font-size="27.2" letter-spacing="-0.069" fill="#000">Forward whole image through ConvNet</text>
<text x="119.9" y="390.0" font-size="27.2" letter-spacing="0.013" fill="#000">Region</text>
<text x="120.0" y="423.0" font-size="27.2" letter-spacing="-0.099" fill="#000">proposals</text>
<text x="434.7" y="587.4" font-size="27.2" letter-spacing="-0.237" fill="#000">ConvNet</text>
<text x="509.2" y="239.6" font-size="27.2" letter-spacing="-0.321" fill="#000">FCs</text>
<text x="62.7" y="760.6" font-size="23.8" letter-spacing="-0.054" fill="#000">Source: R. Girshick</text>
<text x="378.0" y="113.4" font-size="27.2" letter-spacing="-0.033" fill="#A8E2CB">Linear +</text>
<text x="379.0" y="146.4" font-size="27.2" letter-spacing="-0.215" fill="#A8E2CB">softmax</text>
<text x="590.9" y="145.6" font-size="27.2" letter-spacing="0.016" fill="#A8E2CB">Linear</text>
<text x="801.2" y="760.0" font-size="27.2" fill="#000">R. Girshick,</text>
<text x="950.2" y="760.0" font-size="27.2" fill="#0000FF">Fast R-CNN</text>
<text x="1245.3" y="760.0" font-size="27.2" fill="#000" text-anchor="end">, ICCV 2015</text>
<rect x="950" y="762.6" width="146.9" height="2.2" fill="#0000FF"/>
</svg></body></html>
